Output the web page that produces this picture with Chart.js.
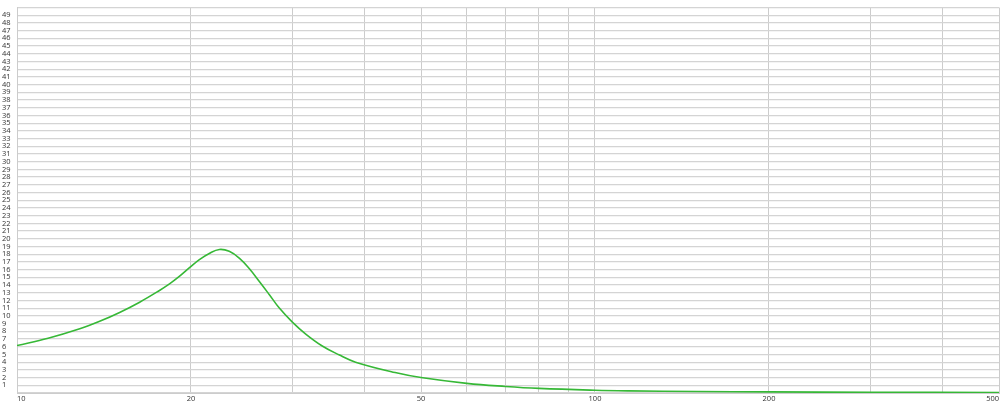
<!DOCTYPE html>
<html>
<head>
<meta charset="utf-8">
<script src="https://cdn.jsdelivr.net/npm/chart.js@4"></script>
<style>
  html, body { margin: 0; padding: 0; background: #fff; }
  #wrap { width: 1000px; height: 405px; position: relative; }
</style>
</head>
<body>
<div id="wrap"><canvas id="curve"></canvas></div>
<script>
// frequency (Hz) and value
const freqs = [10, 11.32, 12.84, 13.9, 15.05, 16.3, 17.64, 18.36, 18.97, 19.88, 20.68, 21.51, 22.39,
  23.29, 24.24, 25.22, 26.24, 27.31, 28.41, 29.95, 31.59, 33.74, 36.06, 38.53, 45.1,
  50, 60, 70, 80, 100, 114, 150, 200, 300, 500];
const values = [6.15, 7.1, 8.33, 9.3, 10.45, 11.78, 13.3, 14.15, 14.95, 16.25, 17.3, 18.1, 18.62,
  18.38, 17.5, 16.15, 14.5, 12.78, 11.05, 9.2, 7.65, 6.1, 4.95, 4.0, 2.65,
  2.0, 1.25, 0.85, 0.6, 0.36, 0.28, 0.19, 0.14, 0.1, 0.07];

// vertical grid lines and the ones that get a label
const xGrid = [10, 20, 30, 40, 50, 60, 70, 80, 90, 100, 200, 300, 400, 500];
const xLabels = [10, 20, 50, 100, 200, 500];

const lineColor = '#36b836';
const gridColor = '#d4d4d4';

const points = freqs.map((f, i) => ({ x: f, y: values[i] }));

new Chart(document.getElementById('curve'), {
  type: 'line',
  data: {
    datasets: [{
      data: points,
      borderColor: lineColor,
      borderWidth: 1.6,
      pointRadius: 0,
      fill: false,
      tension: 0.4
    }]
  },
  options: {
    responsive: true,
    maintainAspectRatio: false,
    animation: false,
    layout: { padding: { top: 2, right: 0, left: 2, bottom: 0 } },
    plugins: {
      legend: { display: false },
      tooltip: { enabled: false }
    },
    scales: {
      x: {
        type: 'logarithmic',
        min: 10,
        max: 500,
        afterBuildTicks: scale => {
          scale.ticks = xGrid.map(v => ({ value: v }));
        },
        afterFit: scale => { scale.height = 12; },
        grid: { color: '#cccccc', drawTicks: false },
        border: { color: '#cccccc' },
        ticks: {
          autoSkip: false,
          maxRotation: 0,
          align: 'inner',
          padding: 1,
          color: '#333',
          font: { family: 'Open Sans', size: 7.5 },
          callback: v => xLabels.includes(v) ? String(v) : ''
        }
      },
      y: {
        min: 0,
        max: 50,
        afterFit: scale => { scale.width = 15; },
        grid: { color: gridColor, drawTicks: false, lineWidth: 1.3 },
        border: { color: '#cccccc' },
        ticks: {
          stepSize: 1,
          autoSkip: false,
          crossAlign: 'far',
          padding: 3,
          color: '#333',
          font: { family: 'Open Sans', size: 7.5 },
          callback: v => (v > 0 && v < 50) ? String(v) : ''
        }
      }
    }
  }
});
</script>
</body>
</html>
